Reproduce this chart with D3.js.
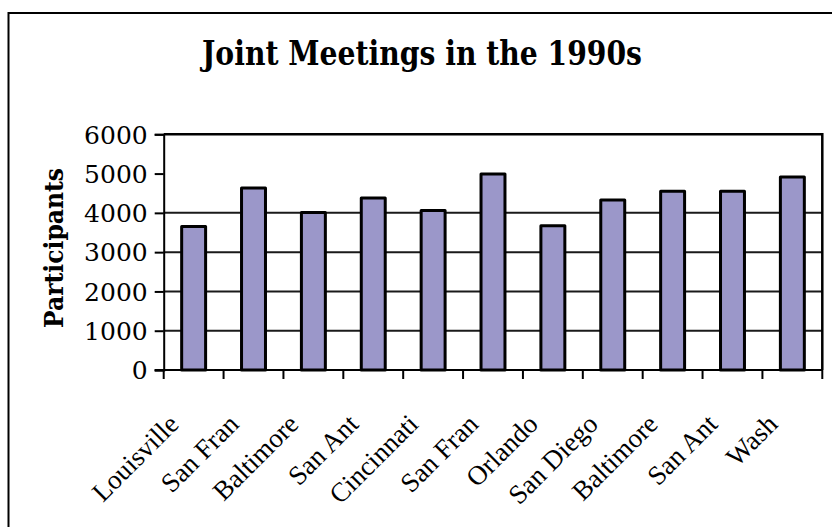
<!DOCTYPE html>
<html>
<head>
<meta charset="utf-8">
<script src="https://cdn.jsdelivr.net/npm/d3@7"></script>
<style>
  html, body { margin: 0; padding: 0; background: #fff; }
  svg { display: block; }
</style>
</head>
<body>
<svg id="chart" width="832" height="527"></svg>
<script>
// Meeting sites in order, with attendance counts
const cities = ["Louisville", "San Fran", "Baltimore", "San Ant", "Cincinnati", "San Fran",
                "Orlando", "San Diego", "Baltimore", "San Ant", "Wash"];
const participants = [3650, 4630, 4010, 4380, 4060, 4990, 3670, 4330, 4550, 4550, 4910];
const yTicks = [0, 1000, 2000, 3000, 4000, 5000, 6000];
const gridValues = [1000, 2000, 3000, 4000];
const titleText = "Joint Meetings in the 1990s";
const yAxisTitle = "Participants";

const svg = d3.select("#chart");
const plot = { left: 163.7, right: 822.3, top: 134.3, bottom: 370 };

// Outer frame of the chart
svg.append("rect")
  .attr("x", 8.5).attr("y", 13)
  .attr("width", 840).attr("height", 540)
  .attr("fill", "#fff").attr("stroke", "#000").attr("stroke-width", 2);

// Title
svg.append("text")
  .attr("x", 422).attr("y", 65)
  .attr("text-anchor", "middle")
  .attr("font-family", "DejaVu Serif")
  .attr("font-weight", "bold")
  .attr("font-size", 33)
  .attr("textLength", 440)
  .attr("lengthAdjust", "spacingAndGlyphs")
  .text(titleText);

// Scales: one band per meeting, linear count axis
const x = d3.scaleBand()
  .domain(d3.range(cities.length))
  .range([plot.left, plot.right])
  .paddingInner(0.6).paddingOuter(0.3);
const xEdges = d3.scaleBand()
  .domain(d3.range(cities.length))
  .range([plot.left, plot.right]);
const y = d3.scaleLinear().domain([0, 6000]).range([plot.bottom, plot.top]);

// Horizontal gridlines
svg.append("g").selectAll("line")
  .data(gridValues).join("line")
  .attr("x1", plot.left).attr("x2", plot.right)
  .attr("y1", d => y(d)).attr("y2", d => y(d))
  .attr("stroke", "#1a1a1a").attr("stroke-width", 2);

// Plot frame: top and right edges
svg.append("path")
  .attr("d", `M${plot.left},${y(6000)}H${plot.right}V${plot.bottom}`)
  .attr("fill", "none").attr("stroke", "#000").attr("stroke-width", 2.5);

// Bars
svg.append("g").selectAll("rect")
  .data(participants).join("rect")
  .attr("x", (d, i) => x(i))
  .attr("y", d => y(d))
  .attr("width", x.bandwidth())
  .attr("height", d => y(0) - y(d))
  .attr("fill", "#9b97c9")
  .attr("stroke", "#000")
  .attr("stroke-width", 3)
  .attr("stroke-linejoin", "round");

// Y axis
const yAxis = d3.axisLeft(y).tickValues(yTicks).tickSize(9).tickPadding(7).tickFormat(d3.format("d"));
const gy = svg.append("g").attr("transform", `translate(${plot.left},0)`).call(yAxis);
gy.select(".domain").attr("stroke", "#000").attr("stroke-width", 2);
gy.selectAll(".tick line").attr("stroke", "#000").attr("stroke-width", 2);
gy.selectAll(".tick text")
  .attr("font-family", "DejaVu Serif")
  .attr("font-size", 25)
  .attr("fill", "#000")
  .attr("dy", "0.35em");

// X axis: ticks at band boundaries
const edgeVals = d3.range(cities.length + 1).map(i => plot.left + i * xEdges.step());
const gx = svg.append("g");
gx.append("line")
  .attr("x1", plot.left - 9).attr("x2", plot.right)
  .attr("y1", plot.bottom).attr("y2", plot.bottom)
  .attr("stroke", "#000").attr("stroke-width", 2);
gx.selectAll("line.tk").data(edgeVals).join("line")
  .attr("class", "tk")
  .attr("x1", d => d).attr("x2", d => d)
  .attr("y1", plot.bottom).attr("y2", plot.bottom + 9)
  .attr("stroke", "#000").attr("stroke-width", 2);

// Rotated category labels
gx.selectAll("text").data(cities).join("text")
  .attr("transform", (d, i) => `translate(${xEdges(i) + xEdges.bandwidth() / 2 - 20},${plot.bottom + 49}) rotate(-45)`)
  .attr("text-anchor", "end")
  .attr("dy", "0.35em")
  .attr("font-family", "Liberation Serif")
  .attr("font-size", 27)
  .text(d => d);

// Y axis title
svg.append("text")
  .attr("transform", "translate(63,248) rotate(-90)")
  .attr("text-anchor", "middle")
  .attr("font-family", "DejaVu Serif")
  .attr("font-weight", "bold")
  .attr("font-size", 26)
  .attr("textLength", 160)
  .attr("lengthAdjust", "spacingAndGlyphs")
  .text(yAxisTitle);
</script>
</body>
</html>
